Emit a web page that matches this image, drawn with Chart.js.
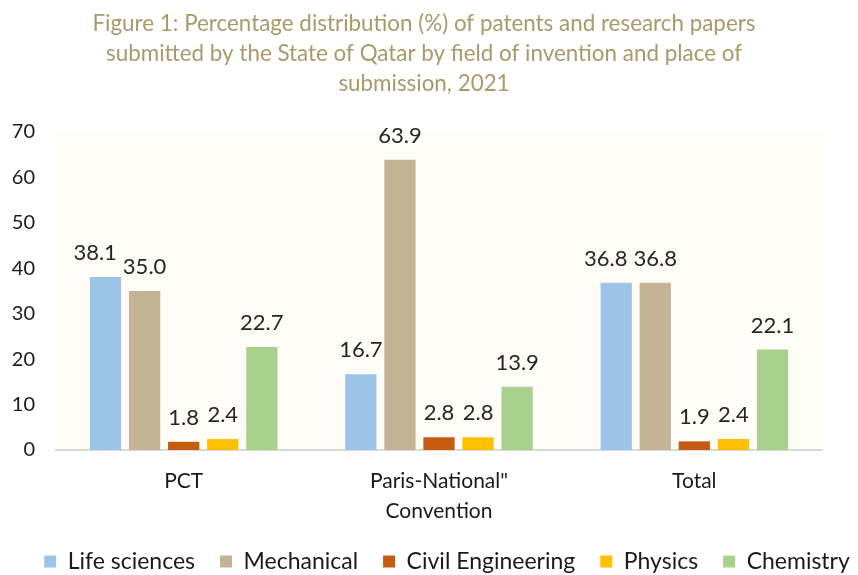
<!DOCTYPE html>
<html>
<head>
<meta charset="utf-8">
<script src="https://cdn.jsdelivr.net/npm/chart.js@4/dist/chart.umd.min.js"></script>
<style>
  html, body { margin: 0; padding: 0; background: #fff; }
  #wrap { width: 858px; height: 575px; }
</style>
</head>
<body>
<div id="wrap"><canvas id="myChart"></canvas></div>
<script>
const categories = ["PCT", ["Paris-National\"", "Convention"], "Total"];
const lifeSciences = [38.1, 16.7, 36.8];
const mechanical = [35.0, 63.9, 36.8];
const civilEngineering = [1.8, 2.8, 1.9];
const physics = [2.4, 2.8, 2.4];
const chemistry = [22.7, 13.9, 22.1];
const yTicks = [0, 10, 20, 30, 40, 50, 60, 70];

const font = "Lato, 'Open Sans', sans-serif";

// white page, cream plot area, small nudges of title and legend
const areaBg = {
  id: "areaBg",
  afterLayout(chart) {
    chart.legend.left += 18;
    chart.legend.right += 18;
    chart.titleBlock.left -= 5;
    chart.titleBlock.right -= 5;
  },
  beforeDraw(chart) {
    const { ctx, chartArea: a } = chart;
    ctx.save();
    ctx.fillStyle = "#ffffff";
    ctx.fillRect(0, 0, chart.width, chart.height);
    ctx.fillStyle = "#fffdf8";
    ctx.fillRect(a.left, a.top, a.right - a.left, a.bottom - a.top);
    ctx.restore();
  }
};

// value labels above the bars; a label that would run into the next one moves left
const valueLabels = {
  id: "valueLabels",
  afterDatasetsDraw(chart) {
    const ctx = chart.ctx;
    ctx.save();
    ctx.font = "22px " + font;
    ctx.fillStyle = "#262626";
    ctx.textAlign = "center";
    ctx.textBaseline = "alphabetic";
    const n = chart.data.datasets.length;
    chart.data.labels.forEach((_, j) => {
      const items = [];
      for (let i = 0; i < n; i++) {
        const bar = chart.getDatasetMeta(i).data[j];
        const text = chart.data.datasets[i].data[j].toFixed(1);
        items.push({ text, x: bar.x, y: bar.y - 17, w: ctx.measureText(text).width });
      }
      for (let i = n - 2; i >= 0; i--) {
        const a = items[i], b = items[i + 1];
        if (Math.abs(a.y - b.y) < 18) {
          const overlap = (a.x + a.w / 2 + 6) - (b.x - b.w / 2);
          if (overlap > 0) a.x -= overlap;
        }
      }
      items.forEach(it => ctx.fillText(it.text, it.x, it.y));
    });
    ctx.restore();
  }
};

let ctx = document.getElementById("myChart").getContext("2d");
let myChart = new Chart(ctx, {
  type: "bar",
  data: {
    labels: categories,
    datasets: [
      { label: "Life sciences", data: lifeSciences, backgroundColor: "#9dc3e6" },
      { label: "Mechanical", data: mechanical, backgroundColor: "#c4b496" },
      { label: "Civil Engineering", data: civilEngineering, backgroundColor: "#c55a11" },
      { label: "Physics", data: physics, backgroundColor: "#ffc000" },
      { label: "Chemistry", data: chemistry, backgroundColor: "#a9d18e" },
    ],
  },
  options: {
    responsive: true,
    maintainAspectRatio: false,
    animation: false,
    datasets: {
      bar: { categoryPercentage: 0.765, barPercentage: 0.8 }
    },
    layout: { padding: { left: 0, right: 0, top: 0, bottom: -8 } },
    plugins: {
      title: {
        display: true,
        text: [
          "Figure 1: Percentage distribution (%) of patents and research papers",
          "submitted by the State of Qatar by field of invention and place of",
          "submission, 2021"
        ],
        color: "#a99a6b",
        font: { family: font, size: 22.4, weight: "normal", lineHeight: 30 / 22.4 },
        padding: { top: 9, bottom: 33 },
      },
      legend: {
        position: "bottom",
        labels: {
          color: "#1a1a1a",
          font: { family: font, size: 23 },
          boxWidth: 12,
          boxHeight: 12,
          padding: 25,
        },
      },
      tooltip: { enabled: false },
    },
    scales: {
      x: {
        grid: { display: false, drawTicks: false },
        border: { display: true, color: "#d9d9d9", width: 2 },
        ticks: {
          color: "#1a1a1a",
          font: { family: font, size: 21, lineHeight: 30 / 21 },
          padding: 16,
          maxRotation: 0,
        },
        afterFit(scale) { scale.height = 75; },
      },
      y: {
        min: 0,
        max: 70,
        grid: { display: false, drawTicks: false },
        border: { display: false },
        afterBuildTicks(scale) { scale.ticks = yTicks.map(v => ({ value: v })); },
        ticks: {
          color: "#1a1a1a",
          font: { family: font, size: 20 },
          padding: 21,
        },
        afterFit(scale) { scale.width = 56; },
      },
      // empty right margin so the plot stops where the original does
      yRight: {
        type: "linear",
        position: "right",
        grid: { display: false },
        border: { display: false },
        ticks: { display: false },
        afterFit(scale) { scale.width = 36; },
      },
    },
  },
  plugins: [areaBg, valueLabels],
});
</script>
</body>
</html>
